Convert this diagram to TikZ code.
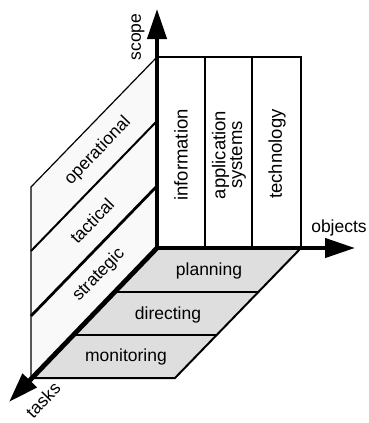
\documentclass[tikz,border=0pt]{standalone}
\usepackage{fontspec}
\setmainfont{Liberation Sans}
\usetikzlibrary{arrows.meta,calc}
\begin{document}
\begin{tikzpicture}[x=1pt,y=-1pt,
  lbl/.style={font=\fontsize{17.5}{15}\selectfont, inner sep=0pt, align=center},
  collbl/.style={font=\fontsize{18.5}{15.5}\selectfont, inner sep=0pt, align=center, rotate=90},
  planelbl/.style={lbl, rotate=45.9},
  vlbl/.style={lbl, rotate=90},
  thinl/.style={line width=1.2pt},
  midl/.style={line width=2pt},
  thickl/.style={line width=2.8pt},
  axisl/.style={line width=4.2pt, -{Triangle[length=30pt,width=19pt]}},
  bandfill/.style={fill=gray!26},
  sidefill/.style={fill=gray!5},
]
\useasboundingbox (0,0) rectangle (368,423);
% key points
\coordinate (O) at (157,248);
\coordinate (Top) at (157,57);
\coordinate (L1) at (157,121);
\coordinate (L2) at (157,186);
\coordinate (LTop) at (31,187);
\coordinate (LB1) at (31,251);
\coordinate (LB2) at (31,316);
\coordinate (LBot) at (31,378);
\coordinate (R) at (301,248);
\coordinate (RB) at (175,378);
\coordinate (P1L) at (114,292);
\coordinate (P1R) at (258,292);
\coordinate (P2L) at (73,335);
\coordinate (P2R) at (217,335);
\coordinate (C1T) at (205,57);
\coordinate (C1B) at (205,248);
\coordinate (C2T) at (252,57);
\coordinate (C2B) at (252,248);
\coordinate (C3T) at (301,57);
\coordinate (ScopeEnd) at (157,9);
\coordinate (ObjEnd) at (355,248);
\coordinate (TaskEnd) at (9,402);

% bottom plane (objects x tasks)
\fill[bandfill] (O) -- (R) -- (RB) -- (LBot) -- cycle;
% left plane (scope x tasks)
\fill[sidefill] (O) -- (Top) -- (LTop) -- (LBot) -- cycle;

% left plane lines
\draw[thinl] (Top) -- (LTop) -- (LBot);
\draw[midl] (L1) -- (LB1);
\draw[thickl] (L2) -- (LB2);

% bottom plane lines
\draw[thinl] (P1L) -- (P1R);
\draw[thinl] (P2L) -- (P2R);
\draw[midl] (R) -- (RB) -- (LBot);

% vertical panel (scope x objects)
\draw[thinl] (Top) -- (C3T) -- (R);
\draw[thinl] (C1T) -- (C1B);
\draw[thinl] (C2T) -- (C2B);

% axes
\draw[axisl] (O) -- (ScopeEnd);
\draw[axisl] (O) -- (ObjEnd);
\draw[axisl, line width=4.8pt] (O) -- (TaskEnd);

% axis labels
\node[vlbl] (scope) at (138,37) {scope};
\node[lbl] (objects) at (339,228) {objects};
\node[planelbl] (tasks) at (43,400) {tasks};

% column labels
\node[collbl] (information) at (181,155) {information};
\node[collbl] (application) at (229,155) {application\\systems};
\node[collbl] (technology) at (277,154) {technology};

% left plane labels
\node[planelbl] (operational) at (98,151) {operational};
\node[planelbl] (tactical) at (92,221) {tactical};
\node[planelbl] (strategic) at (99,275) {strategic};

% bottom plane labels
\node[lbl] (planning) at (209,271) {planning};
\node[lbl] (directing) at (168,315) {directing};
\node[lbl] (monitoring) at (126,357) {monitoring};
\end{tikzpicture}
\end{document}
